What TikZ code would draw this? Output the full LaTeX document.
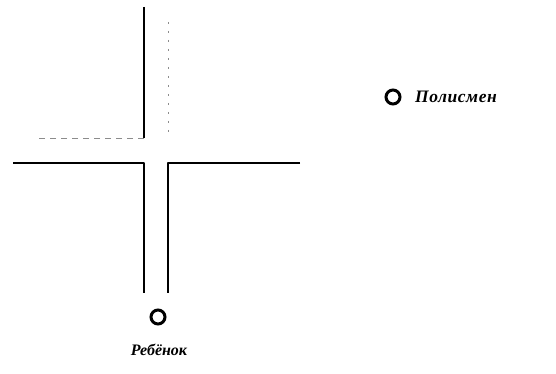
\documentclass[tikz,border=0pt]{standalone}
\usepackage{fontspec}
\setmainfont{Liberation Serif}
\begin{document}
\begin{tikzpicture}[x=1pt,y=-1pt,
  road/.style={line width=1.8pt,line join=round},
  faint/.style={line width=0.9pt,black!45,dash pattern=on 6pt off 5pt},
  person/.style={circle,draw,line width=3pt,minimum size=14pt,inner sep=0pt},
  lbl/.style={font=\fontsize{16}{18}\selectfont\bfseries\itshape,inner sep=0pt}]
\useasboundingbox (0,0) rectangle (556,374);
% upper-left road edge
\coordinate (a1) at (144,7);
\coordinate (a2) at (144,138);
\coordinate (a3) at (38,138);
\draw[road] (a1) -- (a2);
\draw[faint] (a2) -- (a3);
% upper-right road edge (faint)
\coordinate (b1) at (168,22);
\coordinate (b2) at (168,132);
\draw[faint,dash pattern=on 2pt off 7pt] (b1) -- (b2);
% lower-left road edge
\coordinate (c1) at (13,163);
\coordinate (c2) at (144,163);
\coordinate (c3) at (144,293);
\draw[road] (c1) -- (c2) -- (c3);
% lower-right road edge
\coordinate (d1) at (300,163);
\coordinate (d2) at (168,163);
\coordinate (d3) at (168,293);
\draw[road] (d1) -- (d2) -- (d3);
% persons
\node[person] (child) at (158,317) {};
\node[lbl] (childl) at (159,350) {Ребёнок};
\node[person] (police) at (393,97) {};
\node[lbl,anchor=west,font=\fontsize{17.5}{19}\selectfont\bfseries\itshape] (policel) at (415,97) {\addfontfeatures{LetterSpace=3}Полисмен};
\end{tikzpicture}
\end{document}
